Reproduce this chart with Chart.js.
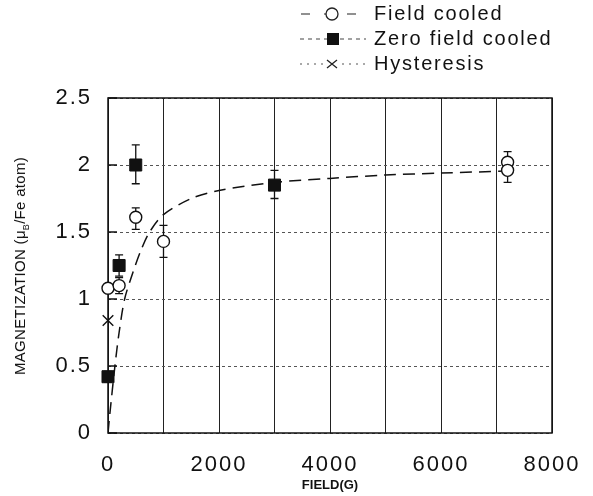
<!DOCTYPE html>
<html>
<head>
<meta charset="utf-8">
<script src="https://cdn.jsdelivr.net/npm/chart.js@4"></script>
<style>
  body { margin: 0; background: #fff; font-family: "Liberation Sans", Arial, sans-serif; color: #111; }
  #wrap { position: relative; width: 593px; height: 496px; }
  #legend { position: absolute; left: 298px; top: 1px; font-size: 20px; letter-spacing: 1.8px; }
  .row { display: flex; align-items: center; height: 25px; }
  .row svg { margin-right: 6px; }
  #ytitle { position: absolute; left: 21px; top: 266px; transform: translate(-50%, -50%) rotate(-90deg);
            white-space: nowrap; font-size: 15px; letter-spacing: 0.3px; }
  #ytitle sub { font-size: 9px; }
  #xtitle { position: absolute; left: 330px; top: 484px; transform: translate(-50%, -50%);
            white-space: nowrap; font-size: 13px; font-weight: bold;
            font-family: "Liberation Sans Narrow", "Liberation Sans", Arial, sans-serif; }
</style>
</head>
<body>
<div id="wrap">
  <canvas id="chart" width="593" height="496"></canvas>
  <div id="ytitle">MAGNETIZATION (μ<sub>B</sub>/Fe atom)</div>
  <div id="xtitle">FIELD(G)</div>
  <div id="legend">
    <div class="row">
      <svg width="70" height="20"><line x1="3" y1="10" x2="67" y2="10" stroke="#222" stroke-width="1.2" stroke-dasharray="9,14"/>
        <circle cx="34" cy="10" r="6" fill="#fff" stroke="#222" stroke-width="1.3"/></svg>
      <span>Field cooled</span>
    </div>
    <div class="row">
      <svg width="70" height="20"><line x1="2" y1="10" x2="68" y2="10" stroke="#444" stroke-width="1.1" stroke-dasharray="4,4"/>
        <rect x="29" y="4" width="12" height="12" fill="#111"/></svg>
      <span>Zero field cooled</span>
    </div>
    <div class="row">
      <svg width="70" height="20"><line x1="2" y1="10" x2="68" y2="10" stroke="#555" stroke-width="1.1" stroke-dasharray="2,5"/>
        <rect x="27" y="3" width="14" height="14" fill="#fff"/>
        <path d="M29 6 L39 14 M39 6 L29 14" stroke="#222" stroke-width="1.3"/></svg>
      <span>Hysteresis</span>
    </div>
  </div>
</div>
<script>
// field cooled (open circles)
const fcField = [0, 200, 500, 1000, 7200, 7200];
const fcMag   = [1.08, 1.10, 1.61, 1.43, 2.02, 1.96];
const fcLow   = [1.08, 1.04, 1.52, 1.31, 2.02, 1.87];
const fcHigh  = [1.08, 1.16, 1.68, 1.55, 2.10, 1.96];

// zero field cooled (filled squares)
const zfcField = [0, 200, 500, 3000];
const zfcMag   = [0.42, 1.25, 2.00, 1.85];
const zfcLow   = [0.38, 1.17, 1.86, 1.75];
const zfcHigh  = [0.46, 1.33, 2.15, 1.96];

// hysteresis
const hysField = [0];
const hysMag   = [0.84];

// dashed fit curve
const fitField = [0, 35, 125, 200, 300, 450, 600, 750, 1000, 1500, 2000, 3000, 4000, 5000, 6000, 7200];
const fitMag   = [0, 0.15, 0.50, 0.75, 1.00, 1.20, 1.37, 1.50, 1.63, 1.75, 1.81, 1.87, 1.90, 1.925, 1.94, 1.955];

const xTicks = [0, 2000, 4000, 6000, 8000];

const pts = (xs, ys) => xs.map((x, i) => ({ x: x, y: ys[i] }));

// error bars drawn under the markers
const errorBars = {
  id: 'errorBars',
  beforeDatasetsDraw(chart) {
    const ctx = chart.ctx;
    const ys = chart.scales.y;
    chart.data.datasets.forEach((ds, di) => {
      if (!ds.errLow) return;
      const meta = chart.getDatasetMeta(di);
      meta.data.forEach((p, i) => {
        const lo = ys.getPixelForValue(ds.errLow[i]);
        const hi = ys.getPixelForValue(ds.errHigh[i]);
        if (Math.abs(hi - lo) < 1) return;
        ctx.save();
        ctx.strokeStyle = '#111';
        ctx.lineWidth = 1.3;
        ctx.beginPath();
        ctx.moveTo(p.x, lo); ctx.lineTo(p.x, hi);
        ctx.moveTo(p.x - 4, lo); ctx.lineTo(p.x + 4, lo);
        ctx.moveTo(p.x - 4, hi); ctx.lineTo(p.x + 4, hi);
        ctx.stroke();
        ctx.restore();
      });
    });
  }
};

// solid frame round the plot plus inward ticks on the left axis
const frame = {
  id: 'frame',
  beforeDraw(chart) { chart.ctx.letterSpacing = '2px'; },
  beforeDatasetsDraw(chart) {
    const { ctx, chartArea: a } = chart;
    const ys = chart.scales.y;
    ctx.save();
    ctx.strokeStyle = '#111';
    ctx.lineWidth = 1.5;
    ctx.strokeRect(a.left, a.top, a.right - a.left, a.bottom - a.top);
    ctx.beginPath();
    ys.ticks.forEach(t => {
      const y = ys.getPixelForValue(t.value);
      ctx.moveTo(a.left, y); ctx.lineTo(a.left + 9, y);
    });
    ctx.stroke();
    ctx.restore();
  }
};

const tickFont = { size: 22, family: '"Liberation Sans", Arial' };

new Chart(document.getElementById('chart'), {
  type: 'scatter',
  data: {
    datasets: [
      {
        label: 'Field cooled',
        data: pts(fcField, fcMag),
        errLow: fcLow, errHigh: fcHigh,
        pointStyle: 'circle', pointRadius: 6,
        backgroundColor: '#fff', borderColor: '#111', borderWidth: 1.4,
        clip: false
      },
      {
        label: 'Zero field cooled',
        data: pts(zfcField, zfcMag),
        errLow: zfcLow, errHigh: zfcHigh,
        pointStyle: 'rect', pointRadius: 8.5,
        backgroundColor: '#111', borderColor: '#111', borderWidth: 1,
        clip: false
      },
      {
        label: 'Hysteresis',
        data: pts(hysField, hysMag),
        pointStyle: 'crossRot', pointRadius: 7.5,
        borderColor: '#111', borderWidth: 1.4,
        clip: false
      },
      {
        label: 'fit',
        data: pts(fitField, fitMag),
        showLine: true, pointRadius: 0,
        borderColor: '#111', borderWidth: 1.5, borderDash: [12, 7],
        tension: 0.3, fill: false
      }
    ]
  },
  options: {
    responsive: false,
    animation: false,
    layout: { padding: { top: 98, right: 41, left: 0, bottom: 0 } },
    plugins: { legend: { display: false }, tooltip: { enabled: false } },
    scales: {
      x: {
        type: 'linear', min: 0, max: 8000,
        afterFit: s => { s.height = 63; s.paddingLeft = 0; s.paddingRight = 0; },
        ticks: {
          stepSize: 1000, autoSkip: false, maxRotation: 0, padding: 19,
          color: '#111', font: tickFont,
          callback: v => xTicks.includes(v) ? String(v) : ''
        },
        grid: { color: '#222', lineWidth: 1, drawTicks: false },
        border: { display: false }
      },
      y: {
        min: 0, max: 2.5,
        afterFit: s => { s.width = 108; s.paddingTop = 0; s.paddingBottom = 0; },
        ticks: {
          stepSize: 0.5, padding: 16,
          color: '#111', font: tickFont,
          callback: v => String(v)
        },
        grid: { color: '#555', lineWidth: 1, drawTicks: false },
        border: { display: false, dash: [3, 3] }
      }
    }
  },
  plugins: [frame, errorBars]
});
</script>
</body>
</html>
